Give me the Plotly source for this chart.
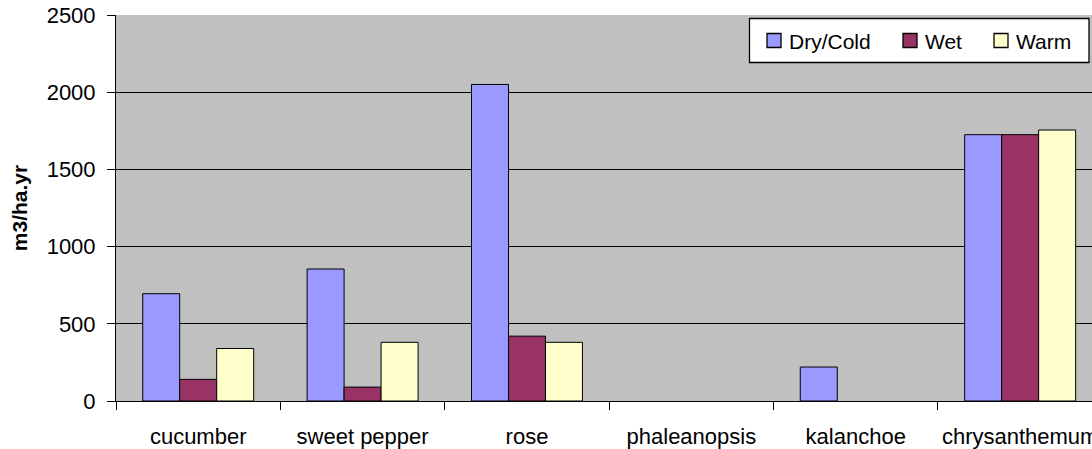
import plotly.graph_objects as go

# crops and water use per climate type (m3/ha.yr)
crops = ['cucumber', 'sweet pepper', 'rose', 'phaleanopsis', 'kalanchoe', 'chrysanthemum']
dry_cold = [695, 855, 2050, None, 220, 1725]
wet = [140, 90, 420, None, None, 1725]
warm = [340, 380, 380, None, None, 1755]

series_names = ['Dry/Cold', 'Wet', 'Warm']
series_colors = ['#9999FF', '#993366', '#FFFFCC']

FONT = 'Liberation Sans, Arial, sans-serif'

L, T, PW, PH = 116, 15, 976, 386


def px(x):
    # pixel x -> paper x
    return (x - L) / PW


def py(y):
    # pixel y -> paper y
    return 1 - (y - T) / PH


fig = go.Figure()
for name, vals, col in zip(series_names, [dry_cold, wet, warm], series_colors):
    fig.add_trace(go.Bar(name=name, x=crops, y=vals,
                         marker=dict(color=col, line=dict(color='black', width=1))))

fig.update_layout(
    width=L + PW,
    height=449,
    margin=dict(l=L, r=0, t=T, b=449 - T - PH),
    barmode='group',
    bargap=0.325,
    bargroupgap=0,
    plot_bgcolor='#C0C0C0',
    paper_bgcolor='white',
    font=dict(family=FONT, size=21, color='black'),
    showlegend=False,
)

# legend box drawn by hand
shapes = [dict(type='rect', xref='paper', yref='paper',
               x0=px(749.5), x1=px(1089), y0=py(18.5), y1=py(62.5),
               fillcolor='white', line=dict(color='black', width=1.3), layer='above')]
annotations = []
sw_x = [767, 903, 994]
tx_x = [787, 923, 1014]
for name, col, sx, tx in zip(series_names, series_colors, sw_x, tx_x):
    shapes.append(dict(type='rect', xref='paper', yref='paper',
                       x0=px(sx), x1=px(sx + 14), y0=py(33.5), y1=py(47.5),
                       fillcolor=col, line=dict(color='black', width=1.3), layer='above'))
    annotations.append(dict(text=name, xref='paper', yref='paper',
                            x=px(tx), y=py(41), xanchor='left', yanchor='middle',
                            showarrow=False, font=dict(family=FONT, size=21, color='black')))
fig.update_layout(shapes=shapes, annotations=annotations)

fig.update_xaxes(
    range=[-0.5, 5.437],
    showgrid=False,
    showline=True, linecolor='black', linewidth=1,
    ticks='outside', tickson='boundaries', ticklen=8, tickcolor='black',
    tickfont=dict(family=FONT, size=22),
    ticklabelstandoff=16,
    automargin=False,
)
fig.update_yaxes(
    range=[0, 2500],
    tickvals=[0, 500, 1000, 1500, 2000, 2500],
    showgrid=True, gridcolor='black', gridwidth=1,
    showline=True, linecolor='black', linewidth=1,
    zeroline=False,
    ticks='outside', ticklen=8, tickcolor='black',
    tickfont=dict(family=FONT, size=22),
    ticklabelstandoff=7,
    ticklabeloverflow='allow',
    title=dict(text='<b>m3/ha.yr</b>', font=dict(family=FONT, size=21), standoff=13),
    automargin=False,
)

# drop the default page margin so the figure sits at the window's corner
fig.write_html("out.html", config={'displayModeBar': False},
               post_script="document.body.style.margin='0';")
